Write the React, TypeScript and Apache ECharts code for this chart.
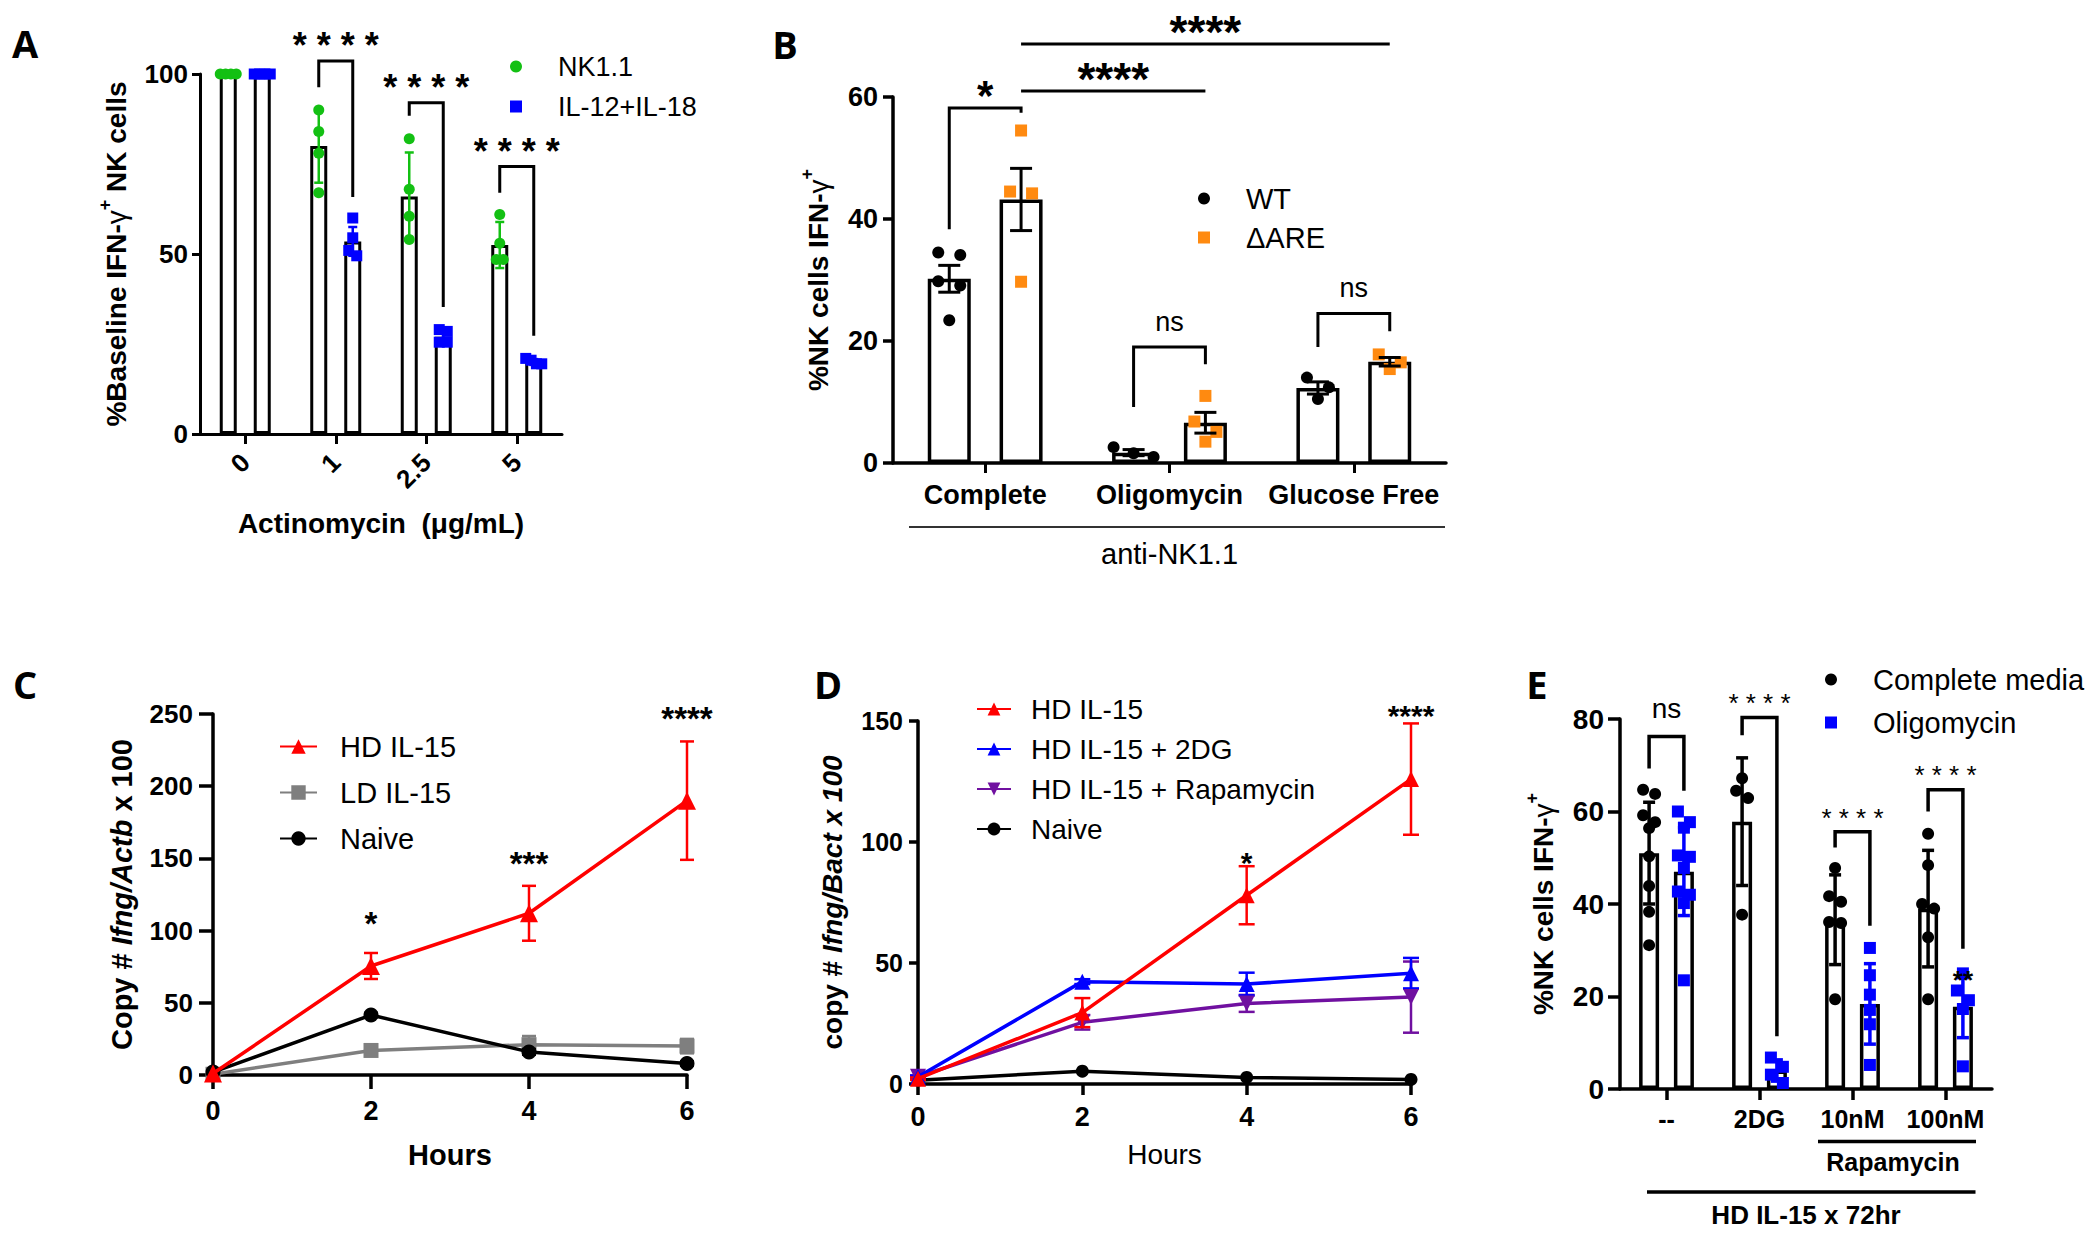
import React, { useEffect, useRef } from 'react';
import * as echarts from 'echarts';

const FONT = '"Liberation Sans", Arial, Helvetica, sans-serif';

// ---------------- Panel A ----------------
const aCategories = ['0', '1', '2.5', '5'];
const aNK1Points = [[100, 100, 100, 100], [90, 84, 78, 67], [82, 68, 60.5, 54], [61, 53, 48.5, 48.5]];
const aNK1Mean = [100, 80, 66, 52.5];
const aNK1SD = [0, 10.2, 12.2, 6.4];
const aILPoints = [[100, 100, 100, 100], [60, 54.5, 51, 49.5], [29, 28.5, 25.5, 25.5], [21, 20.5, 19.5, 19.5]];
const aILMean = [100, 53.5, 27, 20];
const aILSD = [0, 4, 1.8, 0.8];
// [cat1, sub1, cat2, sub2, top, leg1 end, leg2 end, label]
const aBrackets: any[] = [
  [1, 0, 1, 1, 103.6, 96.3, 65.8, '****'],
  [2, 0, 2, 1, 92, 88.4, 35.3, '****'],
  [3, 0, 3, 1, 74.3, 67, 27.3, '****'],
];

// ---------------- Panel B ----------------
const bCategories = ['Complete', 'Oligomycin', 'Glucose Free'];
const bWTPoints = [[34.5, 34.1, 29.8, 29.1, 23.4], [2.6, 1.6, 1.0], [14, 12.4, 10.5]];
const bWTMean = [30.2, 1.7, 12.3];
const bWTSEM = [2.2, 0.5, 1.0];
const bAREPoints = [[54.5, 44.5, 44.2, 29.7], [11, 6.8, 5.1, 3.5], [17.8, 16.5, 15.4]];
const bAREMean = [43.2, 6.6, 16.6];
const bARESEM = [5.1, 1.7, 0.7];
const bBrackets: any[] = [
  [0, 0, 0, 1, 58.2, 38.3, 57.4, '*'],
  [0, 1, 1, 1, 61, null, null, '****'],
  [0, 1, 2, 1, 68.7, null, null, '****'],
  [1, 0, 1, 1, 19, 9.2, 16.2, 'ns'],
  [2, 0, 2, 1, 24.5, 19, 21.6, 'ns'],
];

// ---------------- Panel C ----------------
const hours = [0, 2, 4, 6];
const cHD = [1, 75.5, 112, 190];
const cHDSEM = [0, 9, 19, 41];
const cLD = [0.5, 17, 21, 20];
const cLDSEM = [0, 2, 6, 5];
const cNaive = [2, 41.5, 16, 8];
const cNaiveSEM = [0, 1.5, 2, 1.5];
const cSigLabels = ['', '*', '***', '****'];
const cSigValues = [0, 110, 151.6, 252];

// ---------------- Panel D ----------------
const dHD = [2.2, 29.5, 78, 126];
const dHDSEM = [0.5, 6, 12, 23];
const d2DG = [3, 42.3, 41.3, 45.8];
const d2DGSEM = [0.5, 1, 4.7, 6.3];
const dRapa = [3, 25.5, 33.3, 35.9];
const dRapaSEM = [0.5, 3, 3.5, 14.7];
const dNaive = [1.6, 5.3, 2.7, 1.9];
const dSigLabels = ['', '', '*', '****'];
const dSigValues = [0, 0, 94.4, 155];

// ---------------- Panel E ----------------
const eCategories = ['--', '2DG', '10nM', '100nM'];
const eCompletePoints = [
  [64.7, 63.8, 59.2, 57.7, 56.4, 50.3, 43.9, 38.3, 31.1],
  [67.2, 64.5, 62.9, 37.7],
  [47.8, 41.7, 40.5, 36.1, 35.9, 19.4],
  [55.2, 48.4, 40, 39, 32.8, 19.4],
];
const eCompleteMean = [51, 57.8, 36.6, 39];
const eCompleteSD = [11, 13.8, 9.7, 12.6];
const eOligoPoints = [
  [60, 57.7, 56.5, 50.5, 50.2, 47.8, 42.7, 42, 40.2, 23.5],
  [6.8, 4.8, 3.1, 1.3],
  [30.5, 24.6, 20.4, 17.1, 14, 5.2],
  [25, 21.3, 19.2, 17.3, 4.9],
];
const eOligoMean = [47, 4, 18.4, 17.8];
const eOligoSD = [9.5, 2.3, 8.7, 6.7];
const eBrackets: any[] = [
  [0, 0, 0, 1, 76.2, 69.3, 64.5, 'ns'],
  [1, 0, 1, 1, 80.3, 76.5, 11.4, '****'],
  [2, 0, 2, 1, 55.6, 52.2, 35.3, '****'],
  [3, 0, 3, 1, 64.7, 60, 30.3, '****'],
];
const eExtraLabels: any[] = [[3, 1, 24.7, '**']];

// ---------------- helpers ----------------
function swarmOffsets(ys: number[], size: number, step: number, maxSpread: number): number[] {
  const order = ys.map((_, i) => i).sort((a, b) => ys[a] - ys[b]);
  const rows: number[][] = [];
  let cur: number[] = [];
  let start = -Infinity;
  order.forEach((i) => {
    if (cur.length && ys[i] - start < size * 0.9) cur.push(i);
    else {
      if (cur.length) rows.push(cur);
      cur = [i];
      start = ys[i];
    }
  });
  if (cur.length) rows.push(cur);
  const off = new Array(ys.length).fill(0);
  rows.forEach((r) => {
    const s = r.length > 1 ? Math.min(step, maxSpread / (r.length - 1)) : 0;
    r.forEach((i, j) => {
      off[i] = (j - (r.length - 1) / 2) * s;
    });
  });
  return off;
}

function txt(text: string, size: number, weight: string, extra: any = {}) {
  return {
    text,
    fontSize: size,
    fontWeight: weight,
    fontFamily: FONT,
    fill: '#000',
    textAlign: 'center',
    textVerticalAlign: 'middle',
    ...extra,
  };
}

function barSeries(idx: number, name: string, means: number[], bw: number, gap: string, border: number) {
  return {
    type: 'bar',
    name,
    xAxisIndex: idx,
    yAxisIndex: idx,
    data: means,
    barWidth: bw,
    barGap: gap,
    silent: true,
    z: 2,
    itemStyle: { color: '#fff', borderColor: '#000', borderWidth: border },
  };
}

function pointsSeries(idx: number, name: string, points: number[][], sub: number, off: number,
  symbol: string, color: string, size: number, step: number, maxSpread: number) {
  const data: number[][] = [];
  points.forEach((g, c) => g.forEach((v, i) => data.push([c, v, i])));
  return {
    type: 'custom',
    name,
    xAxisIndex: idx,
    yAxisIndex: idx,
    z: 4,
    silent: true,
    itemStyle: { color },
    data,
    encode: { x: 0, y: 1 },
    renderItem: (params: any, api: any) => {
      const c = api.value(0);
      const i = api.value(2);
      const grp = points[c];
      const cx = api.coord([c, 0])[0] + (sub ? off : -off);
      const ys = grp.map((v) => api.coord([c, v])[1]);
      const dx = swarmOffsets(ys, size, step, maxSpread)[i];
      const y = ys[i];
      if (symbol === 'circle') {
        return { type: 'circle', shape: { cx: cx + dx, cy: y, r: size / 2 }, style: { fill: color } };
      }
      return { type: 'rect', shape: { x: cx + dx - size / 2, y: y - size / 2, width: size, height: size }, style: { fill: color } };
    },
  };
}

function barErrSeries(idx: number, name: string, means: number[], errs: number[], sub: number, off: number,
  color: string, width: number, cap: number) {
  return {
    type: 'custom',
    name,
    xAxisIndex: idx,
    yAxisIndex: idx,
    z: 5,
    silent: true,
    data: means.map((m, c) => [c, m, errs[c]]),
    encode: { x: 0, y: 1 },
    renderItem: (params: any, api: any) => {
      const c = api.value(0);
      const m = api.value(1);
      const e = api.value(2);
      if (!e) return { type: 'group', children: [] };
      const x = api.coord([c, m])[0] + (sub ? off : -off);
      const yt = api.coord([c, m + e])[1];
      const yb = api.coord([c, m - e])[1];
      const st = { stroke: color, lineWidth: width };
      return {
        type: 'group',
        children: [
          { type: 'line', shape: { x1: x, y1: yt, x2: x, y2: yb }, style: st },
          { type: 'line', shape: { x1: x - cap / 2, y1: yt, x2: x + cap / 2, y2: yt }, style: st },
          { type: 'line', shape: { x1: x - cap / 2, y1: yb, x2: x + cap / 2, y2: yb }, style: st },
        ],
      };
    },
  };
}

function bracketSeries(idx: number, name: string, brackets: any[], off: number, cfg: any) {
  return {
    type: 'custom',
    name,
    xAxisIndex: idx,
    yAxisIndex: idx,
    z: 6,
    silent: true,
    data: brackets.map((b, i) => [b[0], b[4], i]),
    encode: { x: 0, y: 1 },
    renderItem: (params: any, api: any) => {
      const b = brackets[api.value(2)];
      const x1 = api.coord([b[0], 0])[0] + (b[1] ? off : -off);
      const x2 = api.coord([b[2], 0])[0] + (b[3] ? off : -off);
      const yTop = api.coord([b[0], b[4]])[1];
      const pts = b[5] == null
        ? [[x1, yTop], [x2, yTop]]
        : [[x1, api.coord([b[0], b[5]])[1]], [x1, yTop], [x2, yTop], [x2, api.coord([b[2], b[6]])[1]]];
      const label: string = b[7];
      const isStar = label.indexOf('*') >= 0;
      let text = label;
      if (isStar && cfg.spaced) text = label.split('').join(' ');
      const fs = isStar ? (label.length === 1 ? cfg.oneStarSize : cfg.starSize) : cfg.nsSize;
      const weight = isStar ? cfg.starWeight : 'normal';
      const inkY = yTop - (isStar ? cfg.starGap : cfg.nsGap);
      const midY = inkY + (isStar ? 0.22 : -0.09) * fs;
      return {
        type: 'group',
        children: [
          { type: 'polyline', shape: { points: pts }, style: { stroke: '#000', lineWidth: cfg.lineWidth, fill: 'none' } },
          { type: 'text', x: (x1 + x2) / 2, y: midY, style: txt(text, fs, weight) },
        ],
      };
    },
  };
}

function extraLabelSeries(idx: number, name: string, labels: any[], off: number, fs: number) {
  return {
    type: 'custom',
    name,
    xAxisIndex: idx,
    yAxisIndex: idx,
    z: 7,
    silent: true,
    data: labels.map((l, i) => [l[0], l[2], i]),
    encode: { x: 0, y: 1 },
    renderItem: (params: any, api: any) => {
      const l = labels[api.value(2)];
      const p = api.coord([l[0], l[2]]);
      return { type: 'text', x: p[0] + (l[1] ? off : -off), y: p[1] + 0.22 * fs, style: txt(l[3], fs, 'bold') };
    },
  };
}

function lineSeries(idx: number, name: string, ys: number[], color: string, symbol: string, size: number,
  width: number, z: number, rotate = 0) {
  return {
    type: 'line',
    name,
    xAxisIndex: idx,
    yAxisIndex: idx,
    data: hours.map((h, i) => [h, ys[i]]),
    symbol,
    symbolSize: size,
    symbolRotate: rotate,
    showSymbol: true,
    silent: true,
    z,
    color,
    itemStyle: { color },
    lineStyle: { color, width },
  };
}

function lineErrSeries(idx: number, name: string, ys: number[], errs: number[], color: string, width: number,
  cap: number, z: number) {
  return {
    type: 'custom',
    name,
    xAxisIndex: idx,
    yAxisIndex: idx,
    z,
    silent: true,
    data: hours.map((h, i) => [h, ys[i], errs[i]]),
    encode: { x: 0, y: 1 },
    renderItem: (params: any, api: any) => {
      const h = api.value(0);
      const m = api.value(1);
      const e = api.value(2);
      if (!e) return { type: 'group', children: [] };
      const x = api.coord([h, m])[0];
      const yt = api.coord([h, m + e])[1];
      const yb = api.coord([h, m - e])[1];
      const st = { stroke: color, lineWidth: width };
      return {
        type: 'group',
        children: [
          { type: 'line', shape: { x1: x, y1: yt, x2: x, y2: yb }, style: st },
          { type: 'line', shape: { x1: x - cap / 2, y1: yt, x2: x + cap / 2, y2: yt }, style: st },
          { type: 'line', shape: { x1: x - cap / 2, y1: yb, x2: x + cap / 2, y2: yb }, style: st },
        ],
      };
    },
  };
}

function sigSeries(idx: number, name: string, values: number[], labels: string[], fs: number) {
  return {
    type: 'custom',
    name,
    xAxisIndex: idx,
    yAxisIndex: idx,
    z: 8,
    silent: true,
    data: hours.map((h, i) => [h, values[i], i]).filter((d) => labels[d[2]]),
    encode: { x: 0, y: 1 },
    renderItem: (params: any, api: any) => {
      const i = api.value(2);
      const p = api.coord([api.value(0), api.value(1)]);
      return { type: 'text', x: p[0], y: p[1] + 0.22 * fs, style: txt(labels[i], fs, 'bold') };
    },
  };
}

const axisLine = (w: number) => ({ show: true, onZero: false, lineStyle: { color: '#000', width: w } });
const axisTick = (len: number, w: number, align = false) => ({
  show: true, length: len, alignWithLabel: align, interval: 0, lineStyle: { color: '#000', width: w },
});
const axisLabel = (size: number, margin: number, extra: any = {}) => ({
  fontFamily: FONT, fontSize: size, fontWeight: 'bold', color: '#000', margin, hideOverlap: false, ...extra,
});
const nameStyle = (size: number, weight: string, rich: any = undefined) => ({
  fontFamily: FONT, fontSize: size, fontWeight: weight, color: '#000', rich,
});
const supRich = (size: number) => ({
  sup: { fontFamily: FONT, fontSize: Math.round(size * 0.65), fontWeight: 'bold', color: '#000', verticalAlign: 'top', lineHeight: size + 12 },
  g: { fontFamily: FONT, fontSize: size, fontWeight: 'normal', color: '#000', lineHeight: size + 12 },
  b: { fontFamily: FONT, fontSize: size, fontWeight: 'bold', color: '#000', lineHeight: size + 12 },
});
const italicRich = (size: number) => ({
  it: { fontFamily: FONT, fontSize: size, fontWeight: 'bold', fontStyle: 'italic', color: '#000' },
});

// bar geometry
const A_BW = 17, A_GAP = 1.0, A_OFF = (A_BW * (1 + A_GAP)) / 2;
const B_BW = 43, B_GAP = 0.67, B_OFF = (B_BW * (1 + B_GAP)) / 2;
const E_BW = 20, E_GAP = 0.74, E_OFF = (E_BW * (1 + E_GAP)) / 2;

const GREEN = '#13c013';
const BLUE = '#0000ff';
const ORANGE = '#ff8a10';
const RED = '#ff0000';
const GRAY = '#7f7f7f';
const PURPLE = '#7010a0';

function buildOption(): any {
  const grids = [
    { left: 200, top: 74, width: 362, height: 360 },
    { left: 893, top: 97, width: 553, height: 366 },
    { left: 213, top: 714, width: 474, height: 361 },
    { left: 918, top: 721, width: 493, height: 363 },
    { left: 1620, top: 719, width: 372, height: 370 },
  ];

  const xAxis = [
    {
      type: 'category', gridIndex: 0, data: aCategories,
      axisLine: axisLine(3), axisTick: axisTick(10, 3, true),
      axisLabel: axisLabel(26, 24, { rotate: 45, interval: 0 }),
      name: 'Actinomycin  (μg/mL)', nameLocation: 'middle', nameGap: 75, nameTextStyle: nameStyle(28, 'bold'),
    },
    {
      type: 'category', gridIndex: 1, data: bCategories,
      axisLine: axisLine(3.5), axisTick: axisTick(10, 3, true),
      axisLabel: axisLabel(27, 18, { interval: 0 }),
      name: 'anti-NK1.1', nameLocation: 'middle', nameGap: 76, nameTextStyle: nameStyle(29, 'normal'),
    },
    {
      type: 'value', gridIndex: 2, min: 0, max: 6, interval: 2,
      axisLine: axisLine(3.5), axisTick: axisTick(14, 3.5), splitLine: { show: false },
      axisLabel: axisLabel(27, 22),
      name: 'Hours', nameLocation: 'middle', nameGap: 65, nameTextStyle: nameStyle(29, 'bold'),
    },
    {
      type: 'value', gridIndex: 3, min: 0, max: 6, interval: 2,
      axisLine: axisLine(3.5), axisTick: axisTick(11, 3.5), splitLine: { show: false },
      axisLabel: axisLabel(27, 19),
      name: 'Hours', nameLocation: 'middle', nameGap: 56, nameTextStyle: nameStyle(28, 'normal'),
    },
    {
      type: 'category', gridIndex: 4, data: eCategories,
      axisLine: axisLine(3.5), axisTick: axisTick(11, 3.5, true),
      axisLabel: axisLabel(25, 17, { interval: 0 }),
      name: 'HD IL-15 x 72hr', nameLocation: 'middle', nameGap: 113, nameTextStyle: nameStyle(26, 'bold'),
    },
  ];

  const yAxis = [
    {
      type: 'value', gridIndex: 0, min: 0, max: 100, interval: 50,
      axisLine: axisLine(3), axisTick: axisTick(8, 3), splitLine: { show: false },
      axisLabel: axisLabel(26, 12),
      name: '{b|%Baseline IFN-}{g|γ}{sup|+}{b| NK cells}', nameLocation: 'middle', nameRotate: 90, nameGap: 64,
      nameTextStyle: nameStyle(28, 'bold', supRich(28)),
    },
    {
      type: 'value', gridIndex: 1, min: 0, max: 60, interval: 20,
      axisLine: axisLine(3.5), axisTick: axisTick(10, 3.5), splitLine: { show: false },
      axisLabel: axisLabel(27, 15),
      name: '{b|%NK cells IFN-}{g|γ}{sup|+}', nameLocation: 'middle', nameRotate: 90, nameGap: 55,
      nameTextStyle: nameStyle(28, 'bold', supRich(28)),
    },
    {
      type: 'value', gridIndex: 2, min: 0, max: 250, interval: 50,
      axisLine: axisLine(3.5), axisTick: axisTick(14, 3.5), splitLine: { show: false },
      axisLabel: axisLabel(26, 20),
      name: 'Copy # {it|Ifng/Actb} x 100', nameLocation: 'middle', nameRotate: 90, nameGap: 77,
      nameTextStyle: nameStyle(29, 'bold', italicRich(29)),
    },
    {
      type: 'value', gridIndex: 3, min: 0, max: 150, interval: 50,
      axisLine: axisLine(3.5), axisTick: axisTick(9, 3.5), splitLine: { show: false },
      axisLabel: axisLabel(25, 15),
      name: 'copy # {it|Ifng/Bact x 100}', nameLocation: 'middle', nameRotate: 90, nameGap: 72,
      nameTextStyle: nameStyle(28, 'bold', italicRich(28)),
    },
    {
      type: 'value', gridIndex: 4, min: 0, max: 80, interval: 20,
      axisLine: axisLine(3.5), axisTick: axisTick(12, 3.5), splitLine: { show: false },
      axisLabel: axisLabel(28, 16),
      name: '{b|%NK cells IFN-}{g|γ}{sup|+}', nameLocation: 'middle', nameRotate: 90, nameGap: 57,
      nameTextStyle: nameStyle(28, 'bold', supRich(28)),
    },
  ];

  const legendText = (size: number, pad: number) => ({ fontFamily: FONT, fontSize: size, color: '#000', padding: [0, 0, 0, pad] });
  const legend = [
    {
      left: 505, top: 48, orient: 'vertical', itemWidth: 12, itemHeight: 12, itemGap: 13, selectedMode: false,
      textStyle: legendText(27, 31),
      data: [{ name: 'NK1.1', icon: 'circle' }, { name: 'IL-12+IL-18', icon: 'rect' }],
    },
    {
      left: 1193, top: 179, orient: 'vertical', itemWidth: 12, itemHeight: 12, itemGap: 10, selectedMode: false,
      textStyle: legendText(29, 31),
      data: [{ name: 'WT', icon: 'circle' }, { name: 'ΔARE', icon: 'rect' }],
    },
    {
      left: 274, top: 727, orient: 'vertical', itemWidth: 37, itemHeight: 18, itemGap: 17, selectedMode: false,
      textStyle: legendText(29, 18),
      data: ['HD IL-15', 'LD IL-15', 'Naive'],
    },
    {
      left: 971, top: 690, orient: 'vertical', itemWidth: 34, itemHeight: 16, itemGap: 12, selectedMode: false,
      textStyle: legendText(28, 15),
      data: ['HD IL-15', 'HD IL-15 + 2DG', 'HD IL-15 + Rapamycin', 'Naive'],
    },
    {
      left: 1820, top: 660, orient: 'vertical', itemWidth: 12, itemHeight: 12, itemGap: 14, selectedMode: false,
      textStyle: legendText(29, 31),
      data: [{ name: 'Complete media', icon: 'circle' }, { name: 'Oligomycin', icon: 'rect' }],
    },
  ];

  const series: any[] = [
    // Panel A
    barSeries(0, 'aNKBar', aNK1Mean, A_BW, '100%', 3),
    barSeries(0, 'aILBar', aILMean, A_BW, '100%', 3),
    pointsSeries(0, 'NK1.1', aNK1Points, 0, A_OFF, 'circle', GREEN, 11, 7, 16),
    pointsSeries(0, 'IL-12+IL-18', aILPoints, 1, A_OFF, 'rect', BLUE, 11, 8, 16),
    barErrSeries(0, 'aNKErr', aNK1Mean, aNK1SD, 0, A_OFF, GREEN, 2.5, 9),
    barErrSeries(0, 'aILErr', aILMean, aILSD, 1, A_OFF, BLUE, 2.5, 9),
    bracketSeries(0, 'aBr', aBrackets, A_OFF, {
      spaced: true, starSize: 36, oneStarSize: 36, starWeight: 'bold', nsSize: 28, starGap: 23, nsGap: 23, lineWidth: 3,
    }),
    // Panel B
    barSeries(1, 'bWTBar', bWTMean, B_BW, '67%', 3.5),
    barSeries(1, 'bAREBar', bAREMean, B_BW, '67%', 3.5),
    pointsSeries(1, 'WT', bWTPoints, 0, B_OFF, 'circle', '#000', 12, 22, 40),
    pointsSeries(1, 'ΔARE', bAREPoints, 1, B_OFF, 'rect', ORANGE, 12, 22, 40),
    barErrSeries(1, 'bWTErr', bWTMean, bWTSEM, 0, B_OFF, '#000', 3, 22),
    barErrSeries(1, 'bAREErr', bAREMean, bARESEM, 1, B_OFF, '#000', 3, 22),
    bracketSeries(1, 'bBr', bBrackets, B_OFF, {
      spaced: false, starSize: 46, oneStarSize: 42, starWeight: 'bold', nsSize: 27, starGap: 22, nsGap: 23, lineWidth: 3,
    }),
    // Panel C
    lineErrSeries(2, 'cLDErr', cLD, cLDSEM, GRAY, 2.5, 14, 3),
    lineErrSeries(2, 'cNaiveErr', cNaive, cNaiveSEM, '#000', 2.5, 14, 4),
    lineErrSeries(2, 'cHDErr', cHD, cHDSEM, RED, 2.5, 14, 5),
    lineSeries(2, 'LD IL-15', cLD, GRAY, 'rect', 15, 3.5, 3),
    lineSeries(2, 'Naive', cNaive, '#000', 'circle', 15, 3.5, 4),
    lineSeries(2, 'HD IL-15', cHD, RED, 'triangle', 18, 3.5, 5),
    sigSeries(2, 'cSig', cSigValues, cSigLabels, 33),
    // Panel D
    lineErrSeries(3, 'dRapaErr', dRapa, dRapaSEM, PURPLE, 2.5, 16, 3),
    lineErrSeries(3, 'd2DGErr', d2DG, d2DGSEM, BLUE, 2.5, 16, 4),
    lineErrSeries(3, 'dHDErr', dHD, dHDSEM, RED, 2.5, 16, 5),
    lineSeries(3, 'dNaive', dNaive, '#000', 'circle', 13, 3.5, 3),
    lineSeries(3, 'HD IL-15 + Rapamycin', dRapa, PURPLE, 'triangle', 16, 3.5, 4, 180),
    lineSeries(3, 'HD IL-15 + 2DG', d2DG, BLUE, 'triangle', 16, 3.5, 5),
    lineSeries(3, 'dHD', dHD, RED, 'triangle', 16, 3.5, 6),
    sigSeries(3, 'dSig', dSigValues, dSigLabels, 30),
    // Panel E
    barSeries(4, 'eCBar', eCompleteMean, E_BW, '74%', 3.5),
    barSeries(4, 'eOBar', eOligoMean, E_BW, '74%', 3.5),
    pointsSeries(4, 'Complete media', eCompletePoints, 0, E_OFF, 'circle', '#000', 12, 12, 20),
    pointsSeries(4, 'Oligomycin', eOligoPoints, 1, E_OFF, 'rect', BLUE, 12, 12, 20),
    barErrSeries(4, 'eCErr', eCompleteMean, eCompleteSD, 0, E_OFF, '#000', 3.5, 12),
    barErrSeries(4, 'eOErr', eOligoMean, eOligoSD, 1, E_OFF, BLUE, 3.5, 12),
    bracketSeries(4, 'eBr', eBrackets, E_OFF, {
      spaced: true, starSize: 26, oneStarSize: 26, starWeight: 'normal', nsSize: 28, starGap: 20, nsGap: 26, lineWidth: 3.5,
    }),
    extraLabelSeries(4, 'eExtra', eExtraLabels, E_OFF, 26),
  ];

  const letter = (t: string, x: number, y: number) => ({
    type: 'text', x, y, silent: true,
    style: txt(t, 38, 'bold', { fontFamily: '"Open Sans", "Liberation Sans", Arial, sans-serif' }),
  });

  const graphic = [
    letter('A', 25, 43),
    letter('B', 785, 44),
    letter('C', 25, 684),
    letter('D', 828, 684),
    letter('E', 1537, 684),
    { type: 'line', silent: true, shape: { x1: 909, y1: 527, x2: 1445, y2: 527 }, style: { stroke: '#333', lineWidth: 2 } },
    { type: 'line', silent: true, shape: { x1: 1818, y1: 1141.5, x2: 1976, y2: 1141.5 }, style: { stroke: '#000', lineWidth: 3.5 } },
    { type: 'text', silent: true, x: 1893, y: 1162, style: txt('Rapamycin', 25, 'bold') },
    { type: 'line', silent: true, shape: { x1: 1647, y1: 1192, x2: 1975.5, y2: 1192 }, style: { stroke: '#000', lineWidth: 3.5 } },
  ];

  return {
    animation: false,
    backgroundColor: '#ffffff',
    textStyle: { fontFamily: FONT },
    grid: grids,
    xAxis,
    yAxis,
    legend,
    series,
    graphic,
  };
}

export default function App() {
  const ref = useRef<HTMLDivElement>(null);
  useEffect(() => {
    document.body.style.margin = '0';
    const chart = echarts.init(ref.current as HTMLDivElement, null, { renderer: 'svg' });
    chart.setOption(buildOption());
    return () => {
      chart.dispose();
    };
  }, []);
  return <div ref={ref} style={{ width: 2100, height: 1238, background: '#fff' }} />;
}
